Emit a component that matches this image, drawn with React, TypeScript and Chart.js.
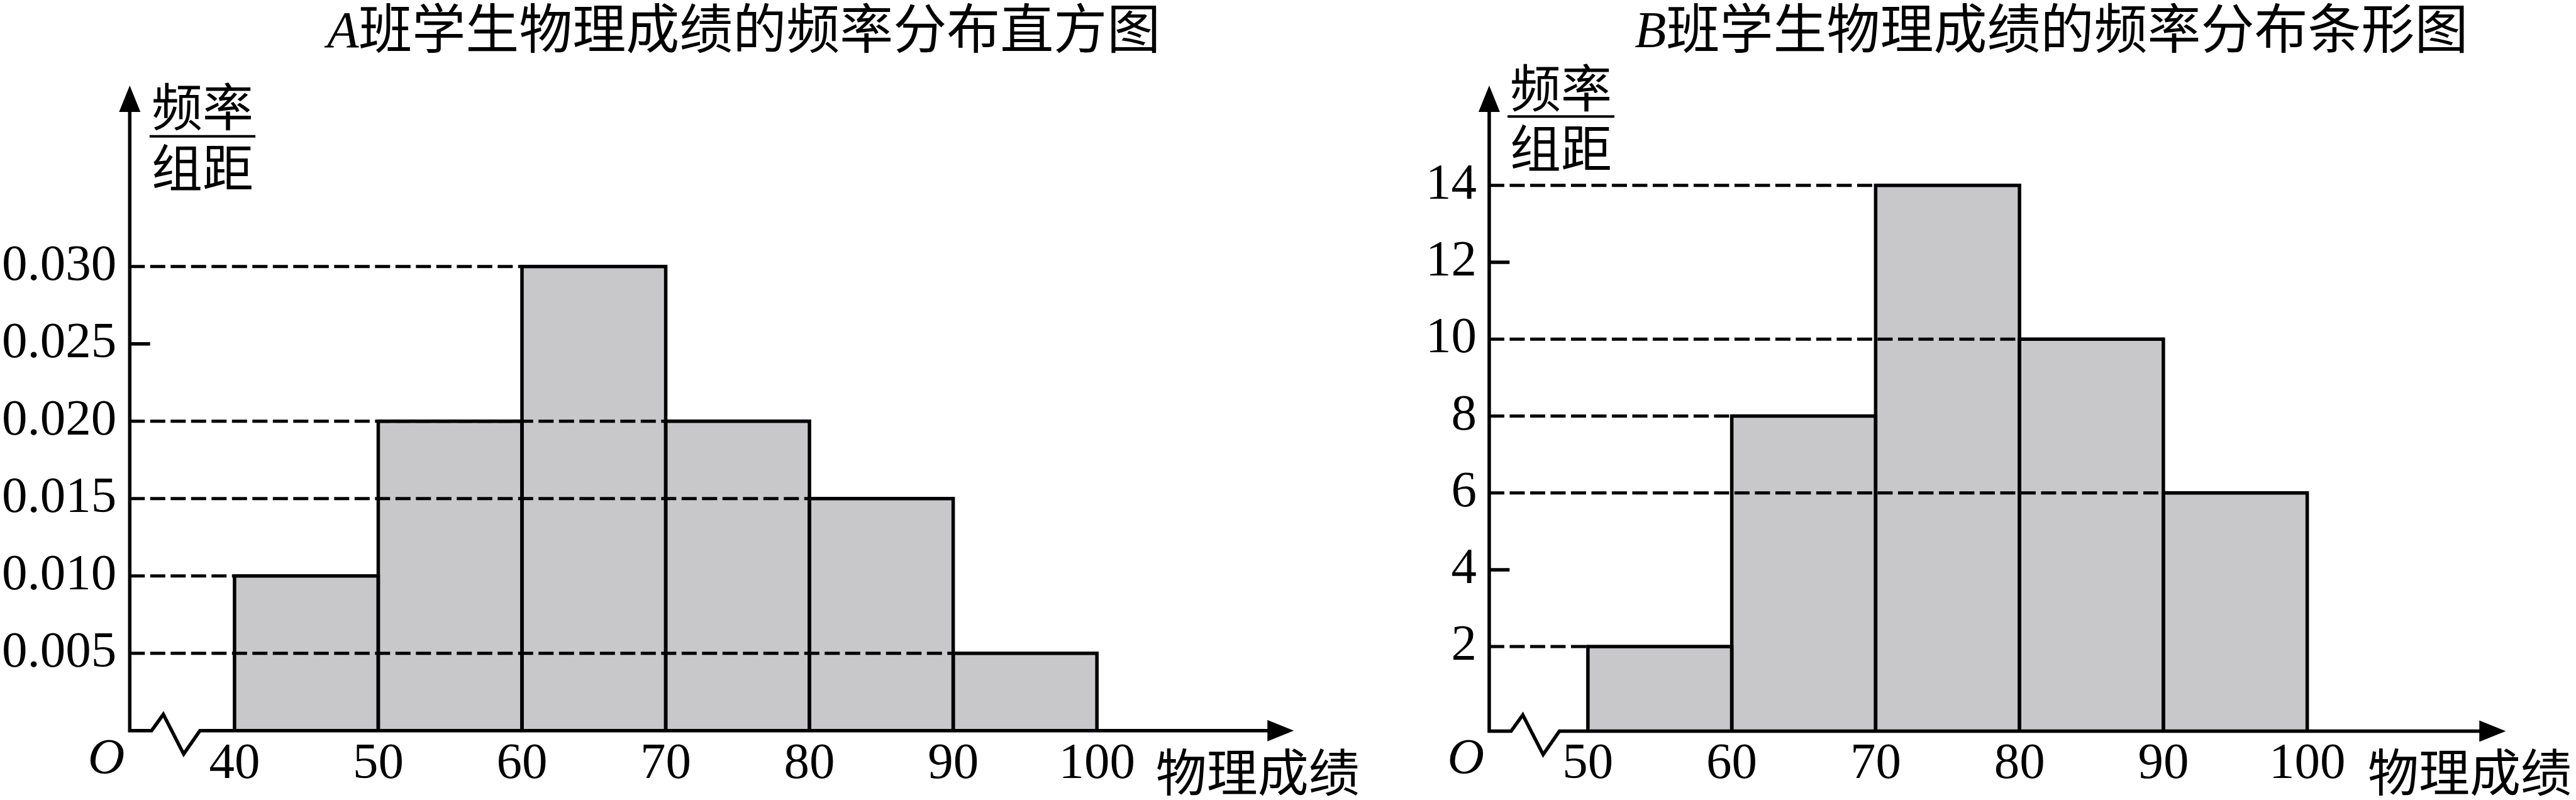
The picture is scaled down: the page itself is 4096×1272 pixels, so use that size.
import React, { useEffect, useRef } from "react";
import { Chart, registerables } from "chart.js";

Chart.register(...registerables);

// ---------- data ----------
const binWidth = 10;

const aLetter = "A";
const aTitle = "班学生物理成绩的频率分布直方图";
const aBinStarts = [40, 50, 60, 70, 80, 90];
const aValues = [0.01, 0.02, 0.03, 0.02, 0.015, 0.005];
const aXTicks = [40, 50, 60, 70, 80, 90, 100];
const aYTicks = [0.005, 0.01, 0.015, 0.02, 0.025, 0.03];

const bLetter = "B";
const bTitle = "班学生物理成绩的频率分布条形图";
const bBinStarts = [50, 60, 70, 80, 90];
const bValues = [2, 8, 14, 10, 6];
const bXTicks = [50, 60, 70, 80, 90, 100];
const bYTicks = [2, 4, 6, 8, 10, 12, 14];

const yLabelTop = "频率";
const yLabelBottom = "组距";
const xLabel = "物理成绩";
const originLabel = "O";

// ---------- layout / style ----------
const S = 0.809;
const W = 4096;
const H = 1272;
const SPLIT = 2180;
const SERIF = '"Liberation Serif", "Times New Roman", serif';
const CJK = '"Noto Sans CJK SC", "Noto Sans CJK JP", sans-serif';
const FILL = "#c8c8ca";
const LW = 5.5;

type Panel = {
  canvasX: number;
  canvasW: number;
  letter: string;
  title: string;
  titleCx: number;
  starts: number[];
  values: number[];
  xTicks: number[];
  yTicks: number[];
  xMin: number;
  xMax: number;
  yMin: number;
  yMax: number;
  decimals: number;
  axisX: number;
  tipX: number;
  tipY: number;
  baseY: number;
  fracTopY: number;
  fracLineY: number;
  fracBotY: number;
  fracCx: number;
  fracL0: number;
  fracL1: number;
  yPad: number;
};

const panels: Panel[] = [
  {
    canvasX: 0,
    canvasW: SPLIT,
    letter: aLetter,
    title: aTitle,
    titleCx: 1462,
    starts: aBinStarts,
    values: aValues,
    xTicks: aXTicks,
    yTicks: aYTicks,
    xMin: 32.71,
    xMax: 113.7,
    yMin: 0,
    yMax: 0.0417,
    decimals: 3,
    axisX: 255,
    tipX: 2543,
    tipY: 168,
    baseY: 1436,
    fracTopY: 209,
    fracLineY: 268,
    fracBotY: 328.5,
    fracCx: 143,
    fracL0: 39,
    fracL1: 247,
    yPad: 21,
  },
  {
    canvasX: SPLIT,
    canvasW: W - SPLIT,
    letter: bLetter,
    title: bTitle,
    titleCx: 4032,
    starts: bBinStarts,
    values: bValues,
    xTicks: bXTicks,
    yTicks: bYTicks,
    xMin: 43.14,
    xMax: 113.8,
    yMin: -0.2,
    yMax: 16.6,
    decimals: 0,
    axisX: 2927,
    tipX: 4925,
    tipY: 168,
    baseY: 1437,
    fracTopY: 172.5,
    fracLineY: 229,
    fracBotY: 291,
    fracCx: 141,
    fracL0: 36,
    fracL1: 246,
    yPad: 20,
  },
];

function guideLines(starts: number[], values: number[]) {
  const uniq = Array.from(new Set(values));
  return uniq.map((v) => ({ v, xEnd: starts[values.lastIndexOf(v)] }));
}

function makeConfig(p: Panel): any {
  const yAxisW = p.axisX * S - p.canvasX;
  const padTop = p.tipY * S;
  const padRight = p.canvasW - (p.tipX * S - p.canvasX);
  const xAxisH = H - p.baseY * S;

  const barData = p.starts.map((s, i) => ({ x: s + binWidth / 2, y: p.values[i] }));
  const guides = guideLines(p.starts, p.values);
  const plainTicks = p.yTicks.filter((t) => !p.values.includes(t));

  const deco = {
    id: "deco",
    afterDatasetsDraw(chart: any) {
      const ctx = chart.ctx;
      const xs = chart.scales.x;
      const ys = chart.scales.y;
      const ox = xs.getPixelForValue(p.xMin);
      const oy = ys.getPixelForValue(p.yMin);
      const top = ys.getPixelForValue(p.yMax);
      const right = xs.getPixelForValue(p.xMax);
      ctx.save();
      ctx.strokeStyle = "#000";
      ctx.fillStyle = "#000";
      ctx.lineWidth = LW;
      ctx.lineJoin = "miter";
      ctx.lineCap = "butt";

      // bar outlines
      const meta = chart.getDatasetMeta(chart.data.datasets.length - 1);
      meta.data.forEach((el: any) => {
        const { x, y, base, width } = el.getProps(["x", "y", "base", "width"], true);
        const l = x - width / 2;
        const r = x + width / 2;
        ctx.beginPath();
        ctx.moveTo(l, base);
        ctx.lineTo(l, y);
        ctx.lineTo(r, y);
        ctx.lineTo(r, base);
        ctx.stroke();
      });

      // short ticks on y axis (values without guide line)
      plainTicks.forEach((t) => {
        const py = ys.getPixelForValue(t);
        ctx.beginPath();
        ctx.moveTo(ox, py);
        ctx.lineTo(ox + 40 * S, py);
        ctx.stroke();
      });

      // axes with break
      const aLen = 52 * S;
      const aHalf = 21 * S;
      ctx.beginPath();
      ctx.moveTo(ox, top + aLen - 4);
      ctx.lineTo(ox, oy);
      ctx.lineTo(ox + 43 * S, oy);
      ctx.lineTo(ox + 66 * S, oy - 32 * S);
      ctx.lineTo(ox + 106 * S, oy + 46 * S);
      ctx.lineTo(ox + 138 * S, oy);
      ctx.lineTo(right - aLen + 4, oy);
      ctx.stroke();
      // arrows
      ctx.beginPath();
      ctx.moveTo(ox, top);
      ctx.lineTo(ox - aHalf, top + aLen);
      ctx.lineTo(ox + aHalf, top + aLen);
      ctx.closePath();
      ctx.fill();
      ctx.beginPath();
      ctx.moveTo(right, oy);
      ctx.lineTo(right - aLen, oy - aHalf);
      ctx.lineTo(right - aLen, oy + aHalf);
      ctx.closePath();
      ctx.fill();

      // fraction label
      const fs = 81;
      ctx.font = `${fs}px ${CJK}`;
      ctx.textAlign = "center";
      ctx.textBaseline = "alphabetic";
      ctx.fillText(yLabelTop, ox + p.fracCx * S, p.fracTopY * S + 0.38 * fs);
      ctx.fillText(yLabelBottom, ox + p.fracCx * S, p.fracBotY * S + 0.38 * fs);
      ctx.lineWidth = 4;
      ctx.beginPath();
      ctx.moveTo(ox + p.fracL0 * S, p.fracLineY * S);
      ctx.lineTo(ox + p.fracL1 * S, p.fracLineY * S);
      ctx.stroke();

      // x axis name
      ctx.fillText(xLabel, right - 71 * S, 1517 * S + 0.38 * fs);

      // origin
      ctx.font = `italic ${fs}px ${SERIF}`;
      ctx.fillText(originLabel, ox - 46 * S, 1521 * S);

      // title
      const tfL = 82;
      const tfC = 85;
      ctx.font = `italic ${tfL}px ${SERIF}`;
      const wL = ctx.measureText(p.letter).width;
      ctx.font = `${tfC}px ${CJK}`;
      const wC = ctx.measureText(p.title).width;
      const total = wL + wC;
      const x0 = p.titleCx * S - p.canvasX - total / 2;
      const by = 93 * S;
      ctx.textAlign = "left";
      ctx.font = `italic ${tfL}px ${SERIF}`;
      ctx.fillText(p.letter, x0, by);
      ctx.font = `${tfC}px ${CJK}`;
      ctx.fillText(p.title, x0 + wL, by + 2);

      ctx.restore();
    },
  };

  return {
    type: "bar",
    data: {
      datasets: [
        ...guides.map((g) => ({
          type: "line",
          data: [
            { x: p.xMin, y: g.v },
            { x: g.xEnd, y: g.v },
          ],
          borderColor: "#000",
          borderWidth: 5,
          borderDash: [24, 8.5],
          pointRadius: 0,
          fill: false,
          order: 0,
        })),
        {
          type: "bar",
          data: barData,
          backgroundColor: FILL,
          borderWidth: 0,
          barPercentage: 1,
          categoryPercentage: 1,
          grouped: false,
          base: p.yMin,
          order: 1,
        },
      ],
    },
    options: {
      responsive: false,
      animation: false,
      devicePixelRatio: 1,
      events: [],
      layout: { padding: { left: 0, right: padRight, top: padTop, bottom: 0 } },
      plugins: {
        legend: { display: false },
        tooltip: { enabled: false },
        title: { display: false },
      },
      scales: {
        x: {
          type: "linear",
          min: p.xMin,
          max: p.xMax,
          offset: false,
          grid: { display: false, drawTicks: false, offset: false },
          border: { display: false },
          afterBuildTicks: (s: any) => {
            s.ticks = p.xTicks.map((v) => ({ value: v }));
          },
          afterFit: (s: any) => {
            s.height = xAxisH;
          },
          ticks: {
            font: { family: SERIF, size: 81 },
            color: "#000",
            padding: 5,
            maxRotation: 0,
            minRotation: 0,
            autoSkip: false,
            callback: (v: any) => String(v),
          },
        },
        y: {
          type: "linear",
          min: p.yMin,
          max: p.yMax,
          grid: { display: false, drawTicks: false },
          border: { display: false },
          afterBuildTicks: (s: any) => {
            s.ticks = p.yTicks.map((v) => ({ value: v }));
          },
          afterFit: (s: any) => {
            s.width = yAxisW;
          },
          ticks: {
            font: { family: SERIF, size: 81 },
            color: "#000",
            padding: p.yPad,
            autoSkip: false,
            callback: (v: any) => Number(v).toFixed(p.decimals),
          },
        },
      },
    },
    plugins: [deco],
  };
}

function PanelChart({ p }: { p: Panel }) {
  const ref = useRef<HTMLCanvasElement | null>(null);
  useEffect(() => {
    if (!ref.current) return;
    const chart = new Chart(ref.current, makeConfig(p));
    return () => chart.destroy();
  }, [p]);
  return (
    <canvas
      ref={ref}
      width={p.canvasW}
      height={H}
      style={{ position: "absolute", left: p.canvasX, top: 0, width: p.canvasW, height: H }}
    />
  );
}

export default function App() {
  useEffect(() => {
    document.body.style.margin = "0";
    document.body.style.overflow = "hidden";
  }, []);
  return (
    <div style={{ position: "relative", width: W, height: H, background: "#fff", overflow: "hidden" }}>
      {panels.map((p, i) => (
        <PanelChart key={i} p={p} />
      ))}
    </div>
  );
}
